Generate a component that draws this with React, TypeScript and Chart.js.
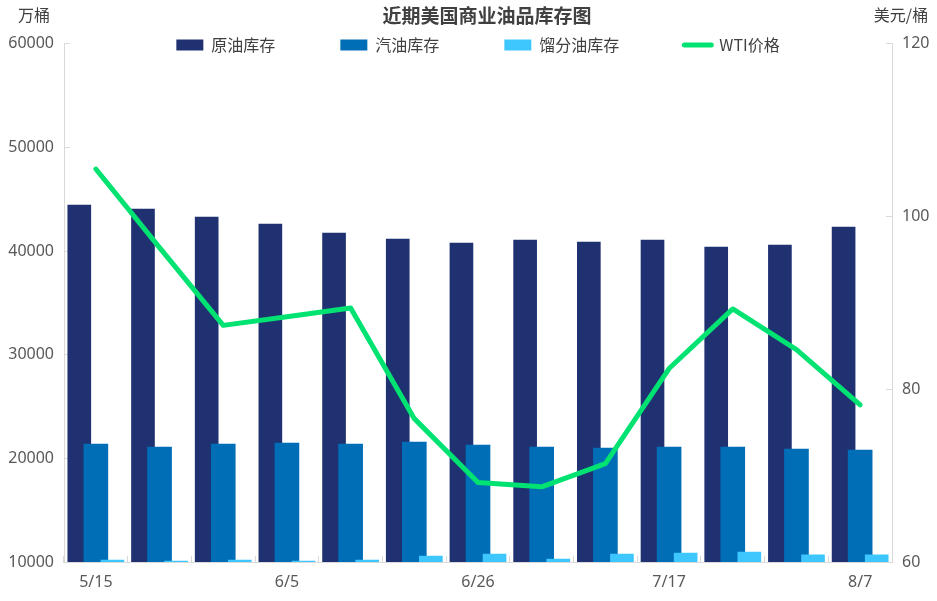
import { useEffect, useRef } from 'react';
import { Chart, registerables } from 'chart.js';

Chart.register(...registerables);

// ---- data ----
const categories = ['5/15', '5/22', '5/29', '6/5', '6/12', '6/19', '6/26', '7/3', '7/10', '7/17', '7/24', '7/31', '8/7'];
const crudeStock = [44440, 44050, 43280, 42600, 41740, 41160, 40770, 41060, 40870, 41060, 40390, 40580, 42310];
const gasolineStock = [21380, 21090, 21380, 21480, 21380, 21580, 21290, 21090, 21000, 21090, 21090, 20900, 20800];
const distillateStock = [10190, 10100, 10190, 10100, 10190, 10580, 10770, 10290, 10770, 10870, 10960, 10680, 10680];
const wtiPrice = [105.5, 96.4, 87.4, 88.4, 89.4, 76.6, 69.2, 68.7, 71.4, 82.4, 89.3, 84.6, 78.2];
const seriesNames = ['原油库存', '汽油库存', '馏分油库存', 'WTI价格'];
const leftAxisRange = [10000, 60000, 10000];
const rightAxisRange = [60, 120, 20];
const labelEvery = 3;
const chartTitle = '近期美国商业油品库存图';
const leftUnit = '万桶';
const rightUnit = '美元/桶';

// ---- styles ----
const FONT = '"Noto Sans", "Noto Sans CJK SC", sans-serif';
const CJK = '"Noto Sans CJK SC", "Noto Sans", sans-serif';
const C_CRUDE = '#1F3171';
const C_GAS = '#006DB7';
const C_DIST = '#3EC7FE';
const C_WTI = '#00E272';
const AXIS_GRAY = '#D9D9D9';
const TEXT_GRAY = '#595959';
const TITLE_GRAY = '#404040';
const BAR_SHIFT = 0.26;
const LEGEND_Y = 45;
const UNIT_Y = 15;
const TITLE_LEFT_INSET = 37;

const toPoints = (vals: number[]) => vals.map((y, i) => ({ x: i, y }));

const boxPlacer = {
  id: 'boxPlacer',
  afterLayout(chart: any) {
    const lg = chart.legend;
    const ca = chart.chartArea;
    if (lg && ca) {
      const pad = lg.options.labels.padding;
      const fs = 16;
      lg.left = ca.left;
      lg.right = ca.right;
      lg.width = ca.right - ca.left;
      lg.top = LEGEND_Y - pad - fs / 2;
      lg.bottom = LEGEND_Y + fs;
      lg.height = lg.bottom - lg.top;
    }
    const tb = chart.titleBlock;
    if (tb) {
      tb.left = TITLE_LEFT_INSET;
      tb.width = tb.right - tb.left;
    }
  },
};

const unitLabels = {
  id: 'unitLabels',
  afterDraw(chart: any) {
    const { ctx } = chart;
    const yl = chart.scales.y;
    const yr = chart.scales.y1;
    ctx.save();
    ctx.font = `16px ${CJK}`;
    ctx.fillStyle = TITLE_GRAY;
    ctx.textAlign = 'center';
    ctx.textBaseline = 'middle';
    ctx.fillText(leftUnit, yl.right - 30, UNIT_Y);
    ctx.fillText(rightUnit, yr.left + 9, UNIT_Y);
    ctx.restore();
  },
};

const hiddenIndexAxis = (shift: number) => ({
  type: 'linear' as const,
  display: false,
  offset: false,
  bounds: 'data' as const,
  min: -0.5 - shift,
  max: categories.length - 0.5 - shift,
  ticks: { stepSize: 1, includeBounds: false },
  grid: { display: false },
});

const plainNumber = (v: any) => String(v);

export default function App() {
  const canvasRef = useRef<HTMLCanvasElement | null>(null);

  useEffect(() => {
    if (!canvasRef.current) return;
    Chart.defaults.font.family = FONT;
    const chart = new Chart(canvasRef.current, {
      type: 'bar',
      data: {
        labels: categories,
        datasets: [
          {
            type: 'bar',
            label: seriesNames[0],
            data: toPoints(crudeStock) as any,
            xAxisID: 'xCrude',
            yAxisID: 'y',
            backgroundColor: C_CRUDE,
            borderWidth: 0,
            barThickness: 23,
            grouped: false,
            order: 3,
          },
          {
            type: 'bar',
            label: seriesNames[1],
            data: toPoints(gasolineStock) as any,
            xAxisID: 'xGas',
            yAxisID: 'y',
            backgroundColor: C_GAS,
            borderWidth: 0,
            barThickness: 24,
            grouped: false,
            order: 2,
          },
          {
            type: 'bar',
            label: seriesNames[2],
            data: toPoints(distillateStock) as any,
            xAxisID: 'xDist',
            yAxisID: 'y',
            backgroundColor: C_DIST,
            borderWidth: 0,
            barThickness: 23,
            grouped: false,
            order: 1,
          },
          {
            type: 'line',
            label: seriesNames[3],
            data: wtiPrice,
            xAxisID: 'x',
            yAxisID: 'y1',
            borderColor: C_WTI,
            backgroundColor: C_WTI,
            borderWidth: 5,
            pointRadius: 0,
            pointHoverRadius: 0,
            pointBorderWidth: 5,
            tension: 0,
            borderJoinStyle: 'round',
            borderCapStyle: 'round',
            order: 0,
          },
        ],
      },
      options: {
        animation: false,
        responsive: true,
        maintainAspectRatio: false,
        layout: { padding: { left: 0, right: 0, top: 0, bottom: 0 } },
        plugins: {
          tooltip: { enabled: false },
          title: {
            display: true,
            text: chartTitle,
            color: TITLE_GRAY,
            font: { family: CJK, size: 19, weight: 'bold' },
            padding: { top: 4, bottom: 16 },
          },
          legend: {
            display: true,
            position: 'top',
            maxHeight: 1,
            labels: {
              usePointStyle: true,
              pointStyleWidth: 27,
              boxWidth: 27,
              boxHeight: 11,
              padding: 65,
              color: TITLE_GRAY,
              font: { family: CJK, size: 16 },
              generateLabels: (chart: any) => {
                const items = (Chart.defaults.plugins.legend.labels as any).generateLabels(chart);
                items.forEach((it: any) => {
                  if (it.datasetIndex === 3) {
                    it.pointStyle = 'line';
                    it.lineWidth = 5;
                    it.lineCap = 'round';
                    it.strokeStyle = C_WTI;
                  } else {
                    it.pointStyle = 'rect';
                    it.lineWidth = 0;
                  }
                });
                return items.sort((a: any, b: any) => a.datasetIndex - b.datasetIndex);
              },
            },
          },
        },
        scales: {
          x: {
            type: 'category',
            position: 'bottom',
            offset: true,
            grid: {
              offset: true,
              drawOnChartArea: false,
              drawTicks: true,
              tickLength: -6,
              color: AXIS_GRAY,
            },
            border: { color: AXIS_GRAY, width: 1 },
            ticks: {
              autoSkip: false,
              maxRotation: 0,
              padding: 17,
              color: TEXT_GRAY,
              font: { size: 16 },
              callback: (_v: any, i: number) => (i % labelEvery === 0 ? categories[i] : ''),
            },
            afterFit: (s: any) => {
              s.height = 39;
            },
          },
          xCrude: hiddenIndexAxis(-BAR_SHIFT),
          xGas: hiddenIndexAxis(0),
          xDist: hiddenIndexAxis(BAR_SHIFT),
          y: {
            type: 'linear',
            position: 'left',
            min: leftAxisRange[0],
            max: leftAxisRange[1],
            ticks: { stepSize: leftAxisRange[2], padding: 16, color: TEXT_GRAY, font: { size: 16 }, callback: plainNumber },
            grid: { drawOnChartArea: false, drawTicks: true, tickLength: -6, color: AXIS_GRAY },
            border: { color: AXIS_GRAY, width: 1 },
            afterFit: (s: any) => {
              s.width = 64;
            },
          },
          y1: {
            type: 'linear',
            position: 'right',
            min: rightAxisRange[0],
            max: rightAxisRange[1],
            ticks: { stepSize: rightAxisRange[2], padding: 16, color: TEXT_GRAY, font: { size: 16 }, callback: plainNumber },
            grid: { drawOnChartArea: false, drawTicks: true, tickLength: -6, color: AXIS_GRAY },
            border: { color: AXIS_GRAY, width: 1 },
            afterFit: (s: any) => {
              s.width = 45;
            },
          },
        },
      } as any,
      plugins: [boxPlacer, unitLabels],
    });
    return () => chart.destroy();
  }, []);

  return (
    <div style={{ position: 'fixed', left: 0, top: 0, width: 937, height: 601, background: '#fff' }}>
      <canvas ref={canvasRef} />
    </div>
  );
}
